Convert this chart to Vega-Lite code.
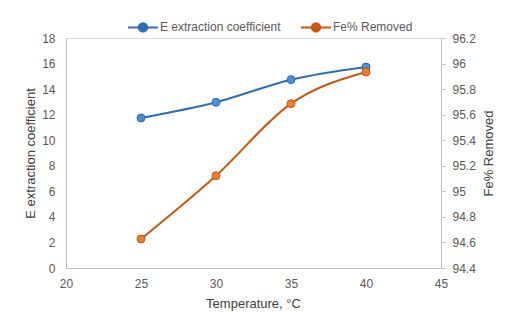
{
  "$schema": "https://vega.github.io/schema/vega-lite/v6.json",
  "width": 375,
  "height": 230,
  "autosize": {"type": "none"},
  "padding": {"left": 66, "top": 38, "right": 73, "bottom": 45},
  "background": "white",
  "config": {
    "font": "Liberation Sans",
    "view": {"stroke": "#D9D9D9"},
    "axis": {
      "labelColor": "#595959",
      "titleColor": "#404040",
      "labelFontSize": 12,
      "titleFontSize": 13,
      "titleFontWeight": "normal",
      "domainColor": "#BFBFBF",
      "tickColor": "#BFBFBF",
      "grid": false,
      "labelFlush": false,
      "labelOverlap": false,
      "labelFont": "Liberation Sans",
      "titleFont": "Liberation Sans"
    }
  },
  "data": {
    "values": [
      {"T": 25, "E": 11.74, "Fe": 94.627},
      {"T": 30, "E": 12.97, "Fe": 95.122},
      {"T": 35, "E": 14.74, "Fe": 95.686},
      {"T": 40, "E": 15.73, "Fe": 95.934}
    ]
  },
  "encoding": {
    "x": {
      "field": "T",
      "type": "quantitative",
      "scale": {"domain": [20, 45], "nice": false, "zero": false},
      "axis": {
        "values": [20, 25, 30, 35, 40, 45],
        "ticks": false,
        "tickSize": 0,
        "labelPadding": 10,
        "title": "Temperature, °C",
        "titleX": 187,
        "titleY": 35,
        "titleBaseline": "middle",
        "titleAlign": "center"
      }
    }
  },
  "layer": [
    {
      "encoding": {
        "y": {
          "field": "E",
          "type": "quantitative",
          "scale": {"domain": [0, 18], "nice": false},
          "axis": {
            "values": [0, 2, 4, 6, 8, 10, 12, 14, 16, 18],
            "ticks": false,
            "tickSize": 0,
            "labelPadding": 11,
            "title": "E extraction coefficient",
            "titleX": -36,
            "titleY": 115,
            "titleAngle": 270,
            "titleBaseline": "middle",
            "titleAlign": "center"
          }
        }
      },
      "layer": [
        {
          "mark": {"type": "line", "interpolate": "monotone", "strokeWidth": 2},
          "encoding": {
            "color": {
              "datum": "E extraction coefficient",
              "type": "nominal",
              "scale": {
                "domain": ["E extraction coefficient", "Fe% Removed"],
                "range": ["#2E6EB5", "#C65911"]
              },
              "legend": {
                "orient": "none",
                "legendX": 61,
                "legendY": -27,
                "direction": "horizontal",
                "title": null,
                "symbolType": "M-1,0L1,0M0.28,0A0.28,0.28,0,1,1,-0.28,0A0.28,0.28,0,1,1,0.28,0Z",
                "symbolSize": 900,
                "symbolStrokeWidth": 2,
                "labelFontSize": 12,
                "labelColor": "#595959",
                "labelFont": "Liberation Sans",
                "columnPadding": 16,
                "labelOffset": 1,
                "padding": 0,
                "encode": {
                  "symbols": {
                    "update": {
                      "fill": {"scale": "color", "field": "value"},
                      "stroke": {"scale": "color", "field": "value"}
                    }
                  }
                }
              }
            }
          }
        },
        {
          "mark": {"type": "point", "shape": "circle", "filled": true, "size": 64, "fill": "#4F8ED0", "stroke": "#2E6EB5", "strokeWidth": 1, "opacity": 1}
        }
      ]
    },
    {
      "encoding": {
        "y": {
          "field": "Fe",
          "type": "quantitative",
          "scale": {"domain": [94.4, 96.2], "nice": false, "zero": false},
          "axis": {
            "orient": "right",
            "values": [94.4, 94.6, 94.8, 95, 95.2, 95.4, 95.6, 95.8, 96, 96.2],
            "format": ".1~f",
            "ticks": true,
            "tickSize": 4,
            "labelPadding": 7,
            "title": "Fe% Removed",
            "titleX": 47,
            "titleY": 115,
            "titleAngle": 270,
            "titleBaseline": "middle",
            "titleAlign": "center"
          }
        }
      },
      "layer": [
        {
          "mark": {"type": "line", "interpolate": "monotone", "strokeWidth": 2},
          "encoding": {
            "color": {"datum": "Fe% Removed", "type": "nominal"}
          }
        },
        {
          "mark": {"type": "point", "shape": "circle", "filled": true, "size": 64, "fill": "#ED7D31", "stroke": "#C65911", "strokeWidth": 1, "opacity": 1}
        }
      ]
    }
  ],
  "resolve": {"scale": {"y": "independent"}}
}
